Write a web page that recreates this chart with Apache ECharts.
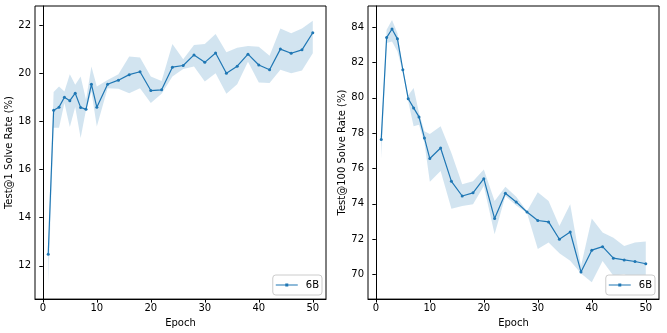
<!DOCTYPE html>
<html>
<head>
<meta charset="utf-8">
<script src="https://cdn.jsdelivr.net/npm/echarts@6/dist/echarts.min.js"></script>
<style>
html, body { margin: 0; padding: 0; background: #fff; }
#main { width: 667px; height: 333px; }
</style>
</head>
<body>
<div id="main"></div>
<script>
// epochs: 1..10 then every 2
var epochs = [1,2,3,4,5,6,7,8,9,10,12,14,16,18,20,22,24,26,28,30,32,34,36,38,40,42,44,46,48,50];

// Test@1
var mean1  = [12.48,18.46,18.59,19.00,18.86,19.17,18.58,18.50,19.54,18.59,19.54,19.71,19.94,20.06,19.28,19.31,20.25,20.32,20.76,20.45,20.84,20.00,20.29,20.79,20.34,20.14,21.00,20.83,20.97,21.68];
var upper1 = [12.60,19.22,19.45,19.24,19.96,19.52,19.86,18.90,20.28,19.45,19.72,19.96,20.69,20.65,19.86,19.68,21.21,20.58,21.17,21.21,21.63,20.87,21.06,21.13,21.10,20.72,21.86,21.66,21.86,22.18];
var lower1 = [11.25,17.73,17.73,18.76,17.77,18.60,17.31,18.48,19.24,17.79,19.38,19.35,19.17,19.38,18.76,19.15,19.86,20.17,20.28,19.65,20.00,19.15,19.54,20.48,19.61,19.59,20.14,20.00,20.11,20.83];

// Test@100
var mean2  = [77.64,83.41,83.90,83.34,81.59,79.95,79.43,78.92,77.73,76.56,77.16,75.27,74.44,74.62,75.42,73.16,74.59,74.10,73.53,73.05,72.97,71.99,72.40,70.14,71.37,71.57,70.92,70.82,70.73,70.60];
var upper2 = [77.90,83.85,84.41,83.66,81.70,80.15,80.56,79.14,78.10,77.95,78.39,76.88,75.10,75.28,75.94,74.15,74.97,74.40,73.58,74.65,74.15,72.74,73.97,70.48,73.16,72.37,72.08,71.61,71.80,71.86];
var lower2 = [76.55,83.10,83.19,82.62,81.48,79.80,78.39,78.48,77.45,75.25,75.85,73.72,73.87,73.97,75.00,72.27,74.44,73.90,73.48,71.44,71.80,71.20,70.77,70.05,69.56,70.76,69.92,70.01,69.73,69.64];

var xTicks = [0,10,20,30,40,50];
var yTicks1 = [12,14,16,18,20,22];
var yTicks2 = [70,72,74,76,78,80,82,84];

var blue = '#1f77b4';
var band = 'rgba(31,119,180,0.2)';
var font = 'DejaVu Sans';

function pts(ys) {
    return epochs.map(function (e, i) { return [e, ys[i]]; });
}

function xAxis(idx) {
    return {
        type: 'value', gridIndex: idx, min: -1.45, max: 52.45,
        name: 'Epoch', nameLocation: 'middle', nameGap: 17,
        nameTextStyle: { color: '#000', fontFamily: font, fontSize: 10 },
        axisLine: { lineStyle: { color: '#000', width: 1 } },
        axisTick: { show: true, length: 3.5, lineStyle: { color: '#000' }, customValues: xTicks },
        axisLabel: { color: '#000', fontFamily: font, fontSize: 10, margin: 4, customValues: xTicks },
        splitLine: { show: false }
    };
}
function yAxis(idx, min, max, ticks, name, gap) {
    return {
        type: 'value', gridIndex: idx, min: min, max: max,
        name: name, nameLocation: 'middle', nameGap: gap,
        nameTextStyle: { color: '#000', fontFamily: font, fontSize: 10 },
        axisLine: { lineStyle: { color: '#000', width: 1 } },
        axisTick: { show: true, length: 3.5, lineStyle: { color: '#000' }, customValues: ticks },
        axisLabel: { color: '#000', fontFamily: font, fontSize: 10, margin: 4, customValues: ticks },
        splitLine: { show: false }
    };
}
// shaded band: polygon over upper then back along lower, through the axes' own scale
function bandSeries(idx, up, lo) {
    return {
        type: 'custom', xAxisIndex: idx, yAxisIndex: idx, silent: true, z: 1,
        data: [[epochs[0], up[0]]],
        renderItem: function (params, api) {
            var p = [];
            for (var i = 0; i < epochs.length; i++) p.push(api.coord([epochs[i], up[i]]));
            for (var j = epochs.length - 1; j >= 0; j--) p.push(api.coord([epochs[j], lo[j]]));
            return { type: 'polygon', shape: { points: p }, style: { fill: band, stroke: null } };
        }
    };
}
function meanSeries(idx, ys) {
    return {
        name: '6B', type: 'line', xAxisIndex: idx, yAxisIndex: idx,
        data: pts(ys), symbol: 'circle', symbolSize: 3, showSymbol: true,
        lineStyle: { color: blue, width: 1.2 }, itemStyle: { color: blue },
        z: 3
    };
}
function legend(right) {
    return {
        data: ['6B'], right: right, bottom: 38, orient: 'vertical',
        icon: 'path://M0,2.5L22,2.5L22,3.5L0,3.5Z M9.5,1.5L12.5,1.5L12.5,4.5L9.5,4.5Z',
        itemWidth: 22, itemHeight: 6, itemGap: 0,
        padding: [5, 3, 5, 3],
        borderColor: '#cccccc', borderWidth: 1, borderRadius: 3,
        backgroundColor: '#fff',
        itemStyle: { color: blue },
        textStyle: { color: '#000', fontFamily: font, fontSize: 10, padding: [0, 0, 0, 3] }
    };
}

var chart = echarts.init(document.getElementById('main'), null, { renderer: 'canvas' });
chart.setOption({
    animation: false,
    backgroundColor: '#fff',
    grid: [
        { left: 35, top: 6, width: 291, height: 294, show: true, borderColor: '#000', borderWidth: 1, backgroundColor: 'transparent' },
        { left: 368, top: 6, width: 291, height: 294, show: true, borderColor: '#000', borderWidth: 1, backgroundColor: 'transparent' }
    ],
    xAxis: [xAxis(0), xAxis(1)],
    yAxis: [
        yAxis(0, 10.62, 22.79, yTicks1, 'Test@1 Solve Rate (%)', 17),
        yAxis(1, 68.6, 85.2, yTicks2, 'Test@100 Solve Rate (%)', 17)
    ],
    legend: [legend(345), legend(12)],
    series: [
        bandSeries(0, upper1, lower1),
        bandSeries(1, upper2, lower2),
        meanSeries(0, mean1),
        meanSeries(1, mean2)
    ]
});
</script>
</body>
</html>
